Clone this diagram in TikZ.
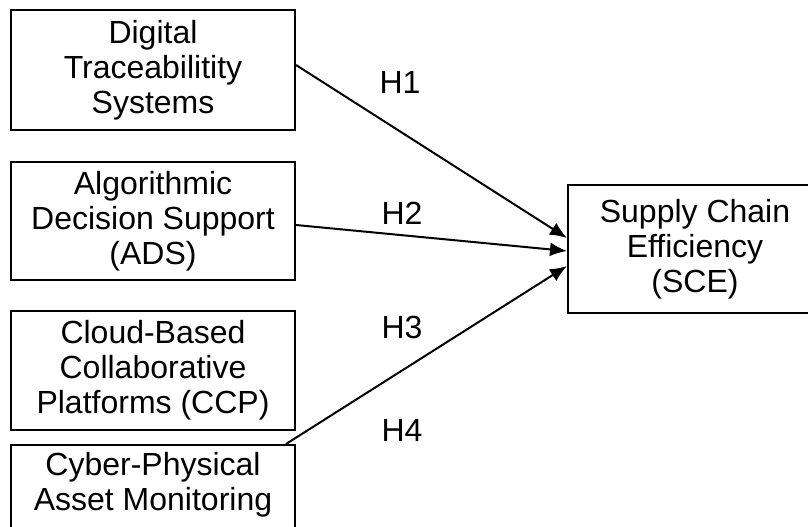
\documentclass[tikz,border=0pt]{standalone}
\usepackage{fontspec}
\setmainfont{Liberation Sans}
\usetikzlibrary{arrows.meta, positioning}

\begin{document}
\begin{tikzpicture}[x=0.5pt, y=-0.5pt,
	box/.style={rectangle, draw, line width=1pt, minimum width=142pt, minimum height=60pt, align=center, font=\fontsize{16}{17.5}\selectfont},
	hyp/.style={font=\fontsize{16}{17.5}\selectfont},
	>={Latex[length=8.5pt, width=7pt]}]
	\useasboundingbox (0,0) rectangle (808,526);
	\node[box] at (153,70) (dts) {Digital\\Traceabilitity\\Systems};
	\node[box, minimum height=59pt] at (153,221) (ads) {Algorithmic\\Decision Support\\(ADS)};
	\node[box, minimum height=59.5pt] at (153,370.5) (ccp) {Cloud-Based\\Collaborative\\Platforms (CCP)};
	\node[box] at (153,505) (cpam) {};
	\node[anchor=north, inner sep=0pt, align=center, font=\fontsize{16}{17.5}\selectfont] at ([yshift=-4pt]cpam.north) (cpam text) {Cyber-Physical\\Asset Monitoring};
	\node[box, minimum width=127pt, minimum height=64pt] at (695,249) (sce) {Supply Chain\\Efficiency\\(SCE)};
	\draw[->, line width=1pt] ([yshift=2.5pt]dts.east)--([yshift=5.5pt]sce.west);
	\draw[->, line width=1pt] ([yshift=-2pt]ads.east)--([yshift=-1pt]sce.west);
	\draw[->, line width=1pt] ([xshift=-5pt]cpam.north east)--([yshift=-8.5pt]sce.west);
	\node[hyp] at (400,82) (h1) {H1};
	\node[hyp] at (402,213) (h2) {H2};
	\node[hyp] at (402,327) (h3) {H3};
	\node[hyp] at (402,430) (h4) {H4};
\end{tikzpicture}
\end{document}
